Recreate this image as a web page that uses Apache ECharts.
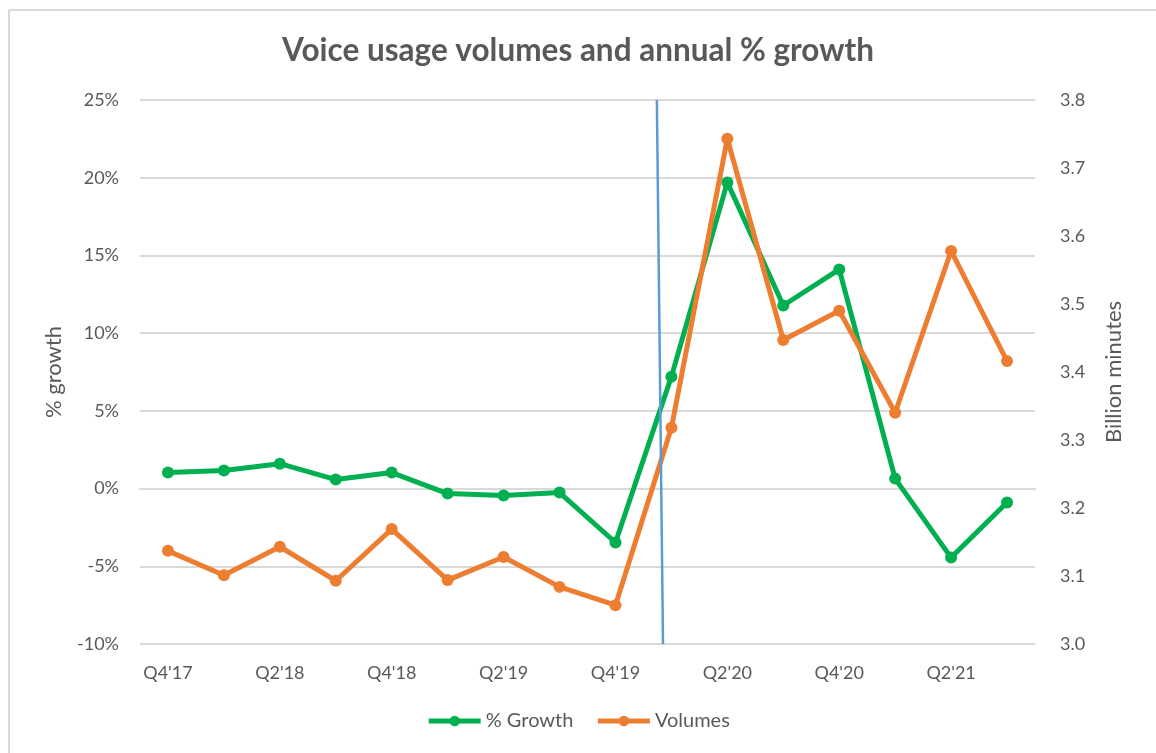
<!DOCTYPE html>
<html>
<head>
<meta charset="utf-8">
<script src="https://cdn.jsdelivr.net/npm/echarts@6/dist/echarts.min.js"></script>
<style>
html,body{margin:0;padding:0;background:#fff;}
#chart{width:1156px;height:753px;}
</style>
</head>
<body>
<div id="chart"></div>
<script>
const categories = ["Q4'17","Q1'18","Q2'18","Q3'18","Q4'18","Q1'19","Q2'19","Q3'19","Q4'19","Q1'20","Q2'20","Q3'20","Q4'20","Q1'21","Q2'21","Q3'21"];
const growth = [1.03, 1.16, 1.6, 0.58, 1.03, -0.32, -0.45, -0.26, -3.47, 7.2, 19.7, 11.78, 14.1, 0.64, -4.44, -0.9];
const volumes = [3.137, 3.101, 3.143, 3.093, 3.169, 3.094, 3.128, 3.084, 3.057, 3.318, 3.743, 3.447, 3.490, 3.340, 3.578, 3.416];
const dividerX = [9.24, 9.35];
const dividerY = [25, -10];

const font = 'Lato, "Open Sans", sans-serif';
const textGray = '#595959';

const chart = echarts.init(document.getElementById('chart'), null, {renderer:'canvas'});
chart.setOption({
  animation: false,
  backgroundColor: '#fff',
  title: {
    text: 'Voice usage volumes and annual % growth',
    left: 'center', top: 30,
    textStyle: {fontFamily: font, fontSize: 31.5, fontWeight: 'bold', color: textGray}
  },
  graphic: [
    {type:'line', shape:{x1:9, y1:10, x2:1156, y2:10}, style:{stroke:'#d9d9d9', lineWidth:2}},
    {type:'line', shape:{x1:9, y1:10, x2:9, y2:753}, style:{stroke:'#d9d9d9', lineWidth:2}}
  ],
  legend: {
    data: ['% Growth', 'Volumes'],
    bottom: 17, left: 'center',
    itemWidth: 52, itemHeight: 13, itemGap: 22,
    lineStyle: {width: 5},
    textStyle: {fontFamily: font, fontSize: 20, color: textGray}
  },
  grid: {left: 140, right: 121, top: 100, bottom: 109},
  xAxis: [{
    type: 'category', data: categories, boundaryGap: true,
    axisLine: {show: true, lineStyle: {color: '#d9d9d9', width: 2}},
    axisTick: {show: false},
    axisLabel: {interval: 1, color: textGray, fontFamily: font, fontSize: 18, margin: 20}
  }, {
    type: 'value', min: 0, max: 16, show: false
  }],
  yAxis: [{
    type: 'value', min: -10, max: 25, interval: 5,
    name: '% growth', nameLocation: 'middle', nameGap: 75, nameRotate: 90,
    nameTextStyle: {fontFamily: font, fontSize: 22, color: textGray},
    axisLine: {show: false}, axisTick: {show: false},
    axisLabel: {formatter: '{value}%', color: textGray, fontFamily: font, fontSize: 18, margin: 21},
    splitLine: {lineStyle: {color: '#d9d9d9', width: 2}}
  }, {
    type: 'value', min: 3.0, max: 3.8, interval: 0.1,
    name: 'Billion minutes', nameLocation: 'middle', nameGap: 68, nameRotate: 90,
    nameTextStyle: {fontFamily: font, fontSize: 22, color: textGray},
    axisLine: {show: false}, axisTick: {show: false},
    axisLabel: {formatter: v => v.toFixed(1), color: textGray, fontFamily: font, fontSize: 18, margin: 25},
    splitLine: {show: false}
  }],
  series: [{
    name: '% Growth', type: 'line', data: growth, yAxisIndex: 0,
    symbol: 'circle', symbolSize: 12, showSymbol: true,
    lineStyle: {color: '#00B050', width: 5},
    itemStyle: {color: '#00B050'}, z: 3
  }, {
    name: 'Volumes', type: 'line', data: volumes, yAxisIndex: 1,
    symbol: 'circle', symbolSize: 12, showSymbol: true,
    lineStyle: {color: '#ED7D31', width: 5},
    itemStyle: {color: '#ED7D31'}, z: 4
  }, {
    name: 'divider', type: 'line', xAxisIndex: 1, yAxisIndex: 0,
    data: dividerX.map((x, i) => [x, dividerY[i]]),
    symbol: 'none', lineStyle: {color: '#5B9BD5', width: 2.5}, z: 5
  }]
});
</script>
</body>
</html>
